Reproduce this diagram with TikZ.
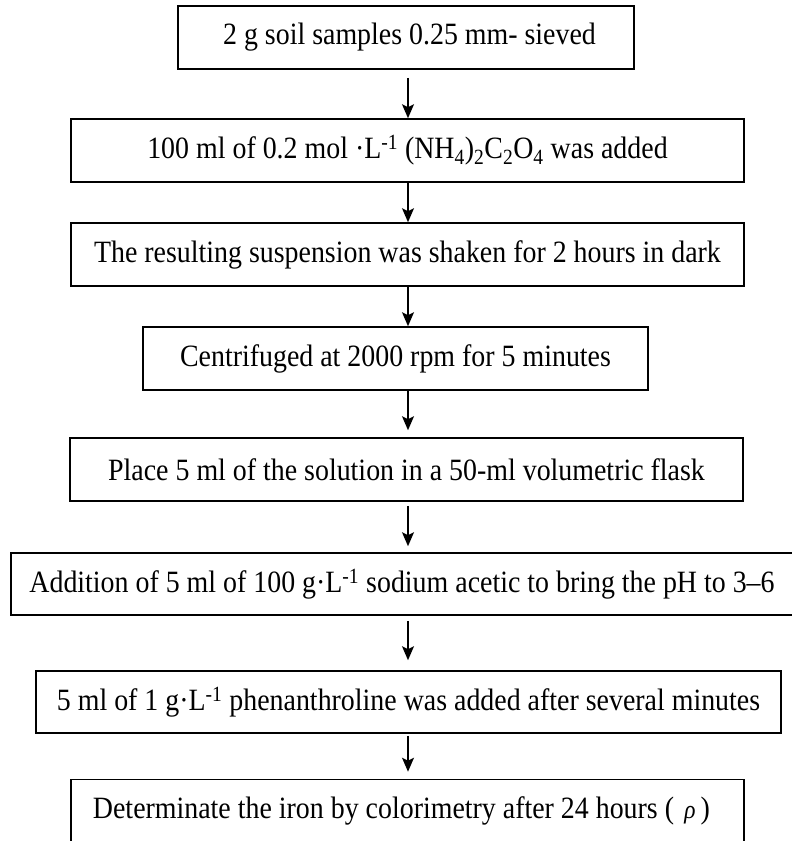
\documentclass[tikz,border=0pt]{standalone}
\usepackage{fontspec}
\setmainfont{Liberation Serif}[FakeStretch=0.9]
\usetikzlibrary{arrows.meta}

\begin{document}
\begin{tikzpicture}[x=1pt,y=-1pt,
  stepbox/.style={draw=black, line width=1.6pt, inner sep=0pt, align=center,
    font=\fontsize{31}{35}\selectfont, minimum height=63pt},
  flowarrow/.style={line width=1.5pt, -{Stealth[length=14pt,width=12pt,inset=3pt]}}]
  \useasboundingbox (0,0) rectangle (792,841);

  % procedure steps
  \node[stepbox, minimum width=456pt] (s1) at (406,37.5)
    {\hspace*{7pt}2 g soil samples 0.25 mm- sieved};
  \node[stepbox, minimum width=673pt] (s2) at (407.5,150.5)
    {100 ml of 0.2 mol ·L\textsuperscript{-1} (NH\textsubscript{4})\textsubscript{2}C\textsubscript{2}O\textsubscript{4} was added};
  \node[stepbox, minimum width=673pt] (s3) at (407.5,254.5)
    {The resulting suspension was shaken for 2 hours in dark};
  \node[stepbox, minimum width=505pt] (s4) at (395.5,358.5)
    {Centrifuged at 2000 rpm for 5 minutes};
  \node[stepbox, minimum width=673pt] (s5) at (406.5,469.5)
    {Place 5 ml of the solution in a 50-ml volumetric flask};
  \node[stepbox, minimum width=782pt, minimum height=62pt] (s6) at (402,584)
    {Addition of 5 ml of 100 g·L\textsuperscript{-1} sodium acetic to bring the pH to 3–6};
  \node[stepbox, minimum width=745pt, minimum height=62pt] (s7) at (408.5,702)
    {5 ml of 1 g·L\textsuperscript{-1} phenanthroline was added after several minutes};
  \node[stepbox, minimum width=673pt] (s8) at (407.5,811)
    {Determinate the iron by colorimetry after 24 hours (\,\,{\fontsize{26}{30}\selectfont\textit{ρ}}\,)\hspace*{12pt}};

  % arrows between the steps
  \coordinate (ax) at (408,0);
  \draw[flowarrow] ([yshift=-8pt]s1.south -| ax) -- (s2.north -| ax);
  \draw[flowarrow] (s2.south -| ax) -- (s3.north -| ax);
  \draw[flowarrow] (s3.south -| ax) -- (s4.north -| ax);
  \draw[flowarrow] (s4.south -| ax) -- ([yshift=7pt]s5.north -| ax);
  \draw[flowarrow] ([yshift=-4pt]s5.south -| ax) -- ([yshift=6pt]s6.north -| ax);
  \draw[flowarrow] ([yshift=-5pt]s6.south -| ax) -- ([yshift=10pt]s7.north -| ax);
  \draw[flowarrow] ([yshift=-2pt]s7.south -| ax) -- ([yshift=7pt]s8.north -| ax);
\end{tikzpicture}
\end{document}
